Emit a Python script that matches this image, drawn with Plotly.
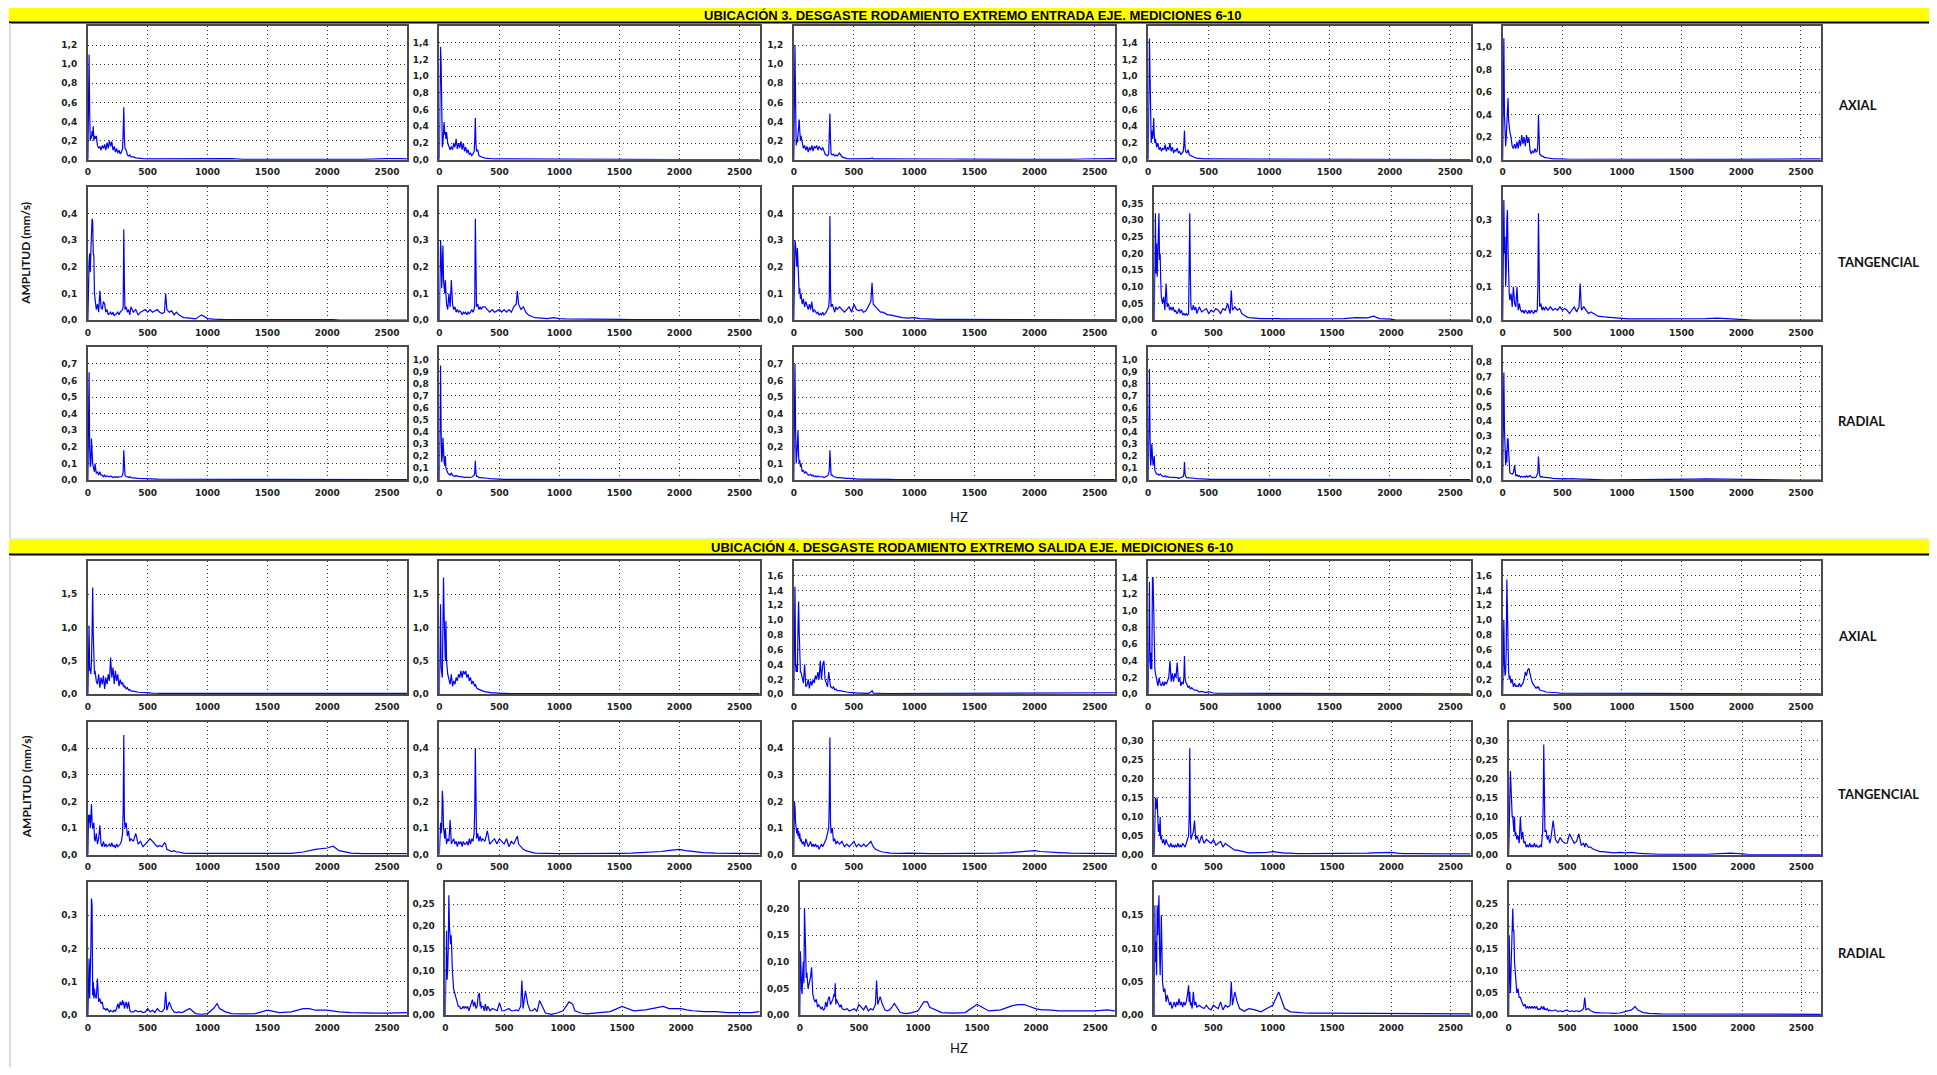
import plotly.graph_objects as go

# ---------------- data ----------------
FREQ = [0, 5, 10, 15, 20, 25, 30, 35, 40, 45, 50, 55,
        60, 70, 80, 90, 100, 110, 120, 130, 140, 150, 160, 170,
        180, 190, 200, 210, 220, 230, 240, 250, 260, 270, 280, 290,
        295, 300, 305, 310, 320, 330, 340, 350, 360,
        380, 400, 420, 440, 460, 480, 500, 520, 540, 560, 580, 600, 620, 640,
        650, 660, 680, 700, 720, 740, 760, 780, 800,
        850, 900, 950, 1000, 1050, 1080, 1100, 1150, 1200,
        1300, 1400, 1500, 1600, 1700, 1800, 1850, 1900, 2000, 2050,
        2100, 2200, 2300, 2400, 2500, 2600, 2666]

X_TICKS = [0, 500, 1000, 1500, 2000, 2500]
X_TICK_TEXT = ["0", "500", "1000", "1500", "2000", "2500"]

TITLE_U3 = "UBICACIÓN 3. DESGASTE RODAMIENTO EXTREMO ENTRADA EJE. MEDICIONES 6-10"
TITLE_U4 = "UBICACIÓN 4. DESGASTE RODAMIENTO EXTREMO SALIDA EJE. MEDICIONES 6-10"
ROW_NAMES = ["AXIAL", "TANGENCIAL", "RADIAL"]

# ---- Ubicación 3, axial ----
u3_ax_6 = [0, 0.6, 1.1, 0.5, 0.2, 0.25, 0.22, 0.3, 0.25, 0.35, 0.2, 0.25,
           0.22, 0.25, 0.15, 0.12, 0.14, 0.1, 0.15, 0.12, 0.16, 0.1, 0.18, 0.12,
           0.2, 0.14, 0.19, 0.1, 0.14, 0.08, 0.12, 0.07, 0.1, 0.06, 0.08, 0.12,
           0.3, 0.55, 0.23, 0.12, 0.1, 0.05, 0.04, 0.05, 0.03,
           0.03, 0.02, 0.015, 0.01, 0.012, 0.01, 0.01, 0.012, 0.01, 0.008, 0.01, 0.01, 0.008, 0.012,
           0.015, 0.01, 0.01, 0.008, 0.01, 0.008, 0.01, 0.008, 0.01,
           0.008, 0.01, 0.008, 0.012, 0.01, 0.012, 0.01, 0.008, 0.012,
           0.005, 0.004, 0.003, 0.003, 0.004, 0.003, 0.003, 0.004, 0.005, 0.004,
           0.003, 0.004, 0.005, 0.012, 0.012, 0.012, 0.01]
u3_ax_7 = [0, 0.8, 1.35, 1.15, 0.3, 0.15, 0.2, 0.35, 0.45, 0.3, 0.33, 0.25,
           0.33, 0.2, 0.15, 0.12, 0.16, 0.12, 0.2, 0.15, 0.25, 0.13, 0.2, 0.14,
           0.22, 0.12, 0.2, 0.1, 0.15, 0.08, 0.12, 0.06, 0.08, 0.05, 0.07, 0.1,
           0.22, 0.5, 0.2, 0.1, 0.12, 0.05, 0.04, 0.03, 0.03,
           0.02, 0.02, 0.015, 0.012, 0.01, 0.012, 0.01, 0.01, 0.012, 0.01, 0.01, 0.008, 0.01, 0.01,
           0.012, 0.01, 0.01, 0.01, 0.008, 0.01, 0.01, 0.008, 0.01,
           0.01, 0.008, 0.01, 0.012, 0.01, 0.01, 0.01, 0.008, 0.01,
           0.01, 0.008, 0.012, 0.005, 0.004, 0.003, 0.003, 0.004, 0.003, 0.002,
           0.002, 0.002, 0.002, 0.002, 0.002, 0.002, 0.002]
u3_ax_8 = [0, 0.7, 1.2, 0.6, 0.15, 0.22, 0.18, 0.25, 0.3, 0.42, 0.3, 0.2,
           0.25, 0.18, 0.12, 0.15, 0.1, 0.14, 0.08, 0.13, 0.1, 0.15, 0.09, 0.14,
           0.12, 0.15, 0.1, 0.14, 0.12, 0.1, 0.13, 0.08, 0.06, 0.05, 0.04, 0.06,
           0.2, 0.48, 0.2, 0.06, 0.05, 0.06, 0.04, 0.05, 0.04,
           0.07, 0.03, 0.02, 0.012, 0.01, 0.012, 0.01, 0.01, 0.01, 0.01, 0.01, 0.008, 0.01, 0.012,
           0.02, 0.01, 0.01, 0.01, 0.01, 0.008, 0.01, 0.01, 0.008,
           0.01, 0.008, 0.01, 0.01, 0.012, 0.015, 0.012, 0.01, 0.008,
           0.008, 0.006, 0.005, 0.004, 0.003, 0.003, 0.003, 0.003, 0.002, 0.002,
           0.002, 0.003, 0.004, 0.008, 0.01, 0.012, 0.012]
u3_ax_9 = [0, 0.9, 1.45, 1.0, 0.3, 0.2, 0.35, 0.25, 0.3, 0.5, 0.3, 0.2,
           0.25, 0.15, 0.2, 0.12, 0.15, 0.1, 0.14, 0.12, 0.18, 0.1, 0.15, 0.12,
           0.2, 0.1, 0.15, 0.08, 0.12, 0.1, 0.14, 0.08, 0.1, 0.06, 0.08, 0.1,
           0.18, 0.35, 0.15, 0.1, 0.08, 0.12, 0.06, 0.05, 0.04,
           0.03, 0.02, 0.015, 0.012, 0.01, 0.01, 0.01, 0.008, 0.01, 0.008, 0.01, 0.008, 0.01, 0.008,
           0.01, 0.008, 0.008, 0.01, 0.008, 0.008, 0.006, 0.008, 0.006,
           0.006, 0.005, 0.006, 0.005, 0.006, 0.005, 0.005, 0.004, 0.005,
           0.004, 0.003, 0.003, 0.003, 0.003, 0.003, 0.003, 0.003, 0.003, 0.003,
           0.003, 0.003, 0.003, 0.003, 0.003, 0.003, 0.003]
u3_ax_10 = [0, 1.08, 1.08, 0.4, 0.18, 0.12, 0.2, 0.3, 0.35, 0.55, 0.35, 0.25,
            0.25, 0.2, 0.12, 0.1, 0.14, 0.1, 0.16, 0.1, 0.18, 0.12, 0.22, 0.14,
            0.2, 0.12, 0.22, 0.15, 0.2, 0.08, 0.05, 0.08, 0.06, 0.1, 0.07, 0.08,
            0.15, 0.4, 0.15, 0.05, 0.04, 0.03, 0.03, 0.02, 0.02,
            0.015, 0.01, 0.008, 0.008, 0.006, 0.006, 0.006, 0.006, 0.005, 0.005, 0.005, 0.005, 0.005, 0.005,
            0.005, 0.005, 0.005, 0.005, 0.005, 0.005, 0.005, 0.005, 0.005,
            0.005, 0.005, 0.005, 0.006, 0.008, 0.01, 0.006, 0.005, 0.005,
            0.004, 0.004, 0.004, 0.005, 0.004, 0.004, 0.004, 0.003, 0.003, 0.003,
            0.003, 0.003, 0.003, 0.004, 0.008, 0.008, 0.008]

# ---- Ubicación 3, tangencial ----
u3_tg_6 = [0, 0.2, 0.22, 0.25, 0.18, 0.26, 0.3, 0.38, 0.37, 0.25, 0.24, 0.1,
           0.08, 0.04, 0.06, 0.03, 0.11, 0.05, 0.04, 0.07, 0.06, 0.03, 0.04, 0.02,
           0.025, 0.03, 0.02, 0.03, 0.018, 0.02, 0.025, 0.03, 0.02, 0.03, 0.035, 0.04,
           0.05, 0.34, 0.14, 0.04, 0.05, 0.03, 0.04, 0.02, 0.05,
           0.03, 0.04, 0.02, 0.03, 0.035, 0.04, 0.03, 0.04, 0.03, 0.035, 0.04, 0.03, 0.025, 0.03,
           0.1, 0.04, 0.03, 0.035, 0.02, 0.03, 0.02, 0.015, 0.01,
           0.008, 0.005, 0.02, 0.006, 0.004, 0.003, 0.003, 0.002, 0.002,
           0.002, 0.002, 0.003, 0.002, 0.002, 0.002, 0.002, 0.002, 0.003, 0.002,
           0, 0, 0, 0, 0, 0, 0]
u3_tg_7 = [0, 0.18, 0.3, 0.25, 0.12, 0.2, 0.28, 0.15, 0.12, 0.1, 0.15, 0.08,
           0.06, 0.04, 0.1, 0.05, 0.15, 0.06, 0.04, 0.05, 0.03, 0.04, 0.03, 0.035,
           0.03, 0.02, 0.03, 0.025, 0.03, 0.02, 0.03, 0.025, 0.03, 0.04, 0.03, 0.04,
           0.06, 0.38, 0.1, 0.05, 0.06, 0.04, 0.05, 0.04, 0.05,
           0.05, 0.04, 0.03, 0.04, 0.03, 0.035, 0.04, 0.03, 0.04, 0.03, 0.04, 0.03, 0.05, 0.06,
           0.11, 0.06, 0.04, 0.05, 0.03, 0.02, 0.015, 0.012, 0.01,
           0.008, 0.006, 0.01, 0.006, 0.005, 0.005, 0.004, 0.004, 0.003,
           0.003, 0.003, 0.003, 0.002, 0.002, 0.003, 0.002, 0.002, 0.004, 0.003,
           0.002, 0.002, 0.002, 0.002, 0.002, 0.002, 0.002]
u3_tg_8 = [0, 0.2, 0.3, 0.28, 0.25, 0.2, 0.27, 0.2, 0.15, 0.1, 0.12, 0.08,
           0.1, 0.06, 0.08, 0.05, 0.07, 0.05, 0.04, 0.06, 0.04, 0.07, 0.03, 0.04,
           0.03, 0.025, 0.03, 0.02, 0.025, 0.02, 0.03, 0.02, 0.025, 0.03, 0.04, 0.05,
           0.08, 0.39, 0.12, 0.05, 0.06, 0.04, 0.03, 0.05, 0.04,
           0.05, 0.04, 0.03, 0.04, 0.05, 0.03, 0.06, 0.04, 0.035, 0.04, 0.03, 0.035, 0.05, 0.07,
           0.14, 0.06, 0.05, 0.04, 0.03, 0.03, 0.025, 0.02, 0.02,
           0.015, 0.01, 0.008, 0.01, 0.006, 0.005, 0.004, 0.004, 0.003,
           0.003, 0.003, 0.003, 0.002, 0.002, 0.002, 0.002, 0.002, 0.002, 0.002,
           0.002, 0.001, 0.001, 0.001, 0.001, 0.001, 0.001]
u3_tg_9 = [0, 0.2, 0.32, 0.14, 0.23, 0.13, 0.2, 0.29, 0.32, 0.18, 0.2, 0.12,
           0.07, 0.05, 0.07, 0.03, 0.11, 0.04, 0.05, 0.03, 0.04, 0.03, 0.04, 0.025,
           0.03, 0.02, 0.025, 0.035, 0.02, 0.03, 0.015, 0.02, 0.015, 0.02, 0.015, 0.02,
           0.12, 0.32, 0.13, 0.04, 0.03, 0.045, 0.03, 0.04, 0.02,
           0.04, 0.025, 0.03, 0.035, 0.02, 0.03, 0.025, 0.035, 0.03, 0.02, 0.035, 0.03, 0.05, 0.02,
           0.09, 0.03, 0.04, 0.03, 0.035, 0.02, 0.015, 0.01, 0.008,
           0.006, 0.005, 0.005, 0.006, 0.005, 0.004, 0.004, 0.004, 0.003,
           0.003, 0.004, 0.004, 0.005, 0.008, 0.007, 0.012, 0.005, 0.003, 0,
           0, 0, 0, 0, 0, 0, 0]
u3_tg_10 = [0, 0.36, 0.36, 0.2, 0.25, 0.1, 0.15, 0.3, 0.33, 0.21, 0.1, 0.08,
            0.06, 0.08, 0.04, 0.1, 0.05, 0.04, 0.1, 0.03, 0.05, 0.03, 0.025, 0.03,
            0.02, 0.03, 0.025, 0.02, 0.03, 0.02, 0.03, 0.025, 0.02, 0.03, 0.025, 0.03,
            0.1, 0.32, 0.13, 0.04, 0.05, 0.03, 0.04, 0.03, 0.04,
            0.03, 0.04, 0.03, 0.035, 0.03, 0.04, 0.03, 0.035, 0.03, 0.02, 0.03, 0.04, 0.025, 0.04,
            0.11, 0.03, 0.04, 0.03, 0.02, 0.025, 0.02, 0.015, 0.012,
            0.01, 0.008, 0.006, 0.005, 0.004, 0.004, 0.004, 0.003, 0.003,
            0.003, 0.003, 0.003, 0.004, 0.005, 0.006, 0.005, 0.004, 0.003, 0,
            0, 0, 0, 0, 0, 0, 0]

# ---- Ubicación 3, radial ----
u3_rd_6 = [0, 0.4, 0.65, 0.2, 0.08, 0.1, 0.25, 0.12, 0.1, 0.08, 0.06, 0.05,
           0.1, 0.04, 0.05, 0.03, 0.05, 0.03, 0.03, 0.02, 0.03, 0.02, 0.025, 0.02,
           0.02, 0.025, 0.02, 0.015, 0.02, 0.015, 0.02, 0.015, 0.02, 0.02, 0.02, 0.03,
           0.05, 0.18, 0.06, 0.03, 0.02, 0.02, 0.015, 0.02, 0.015,
           0.015, 0.012, 0.01, 0.01, 0.008, 0.01, 0.008, 0.008, 0.006, 0.006, 0.006, 0.005, 0.005, 0.006,
           0.006, 0.005, 0.005, 0.004, 0.004, 0.004, 0.004, 0.004, 0.004,
           0.004, 0.003, 0.003, 0.003, 0.003, 0.003, 0.003, 0.003, 0.003,
           0.003, 0.003, 0.003, 0.003, 0.003, 0.004, 0.004, 0.003, 0.003, 0.003,
           0.003, 0.003, 0.003, 0.003, 0.003, 0.003, 0.003]
u3_rd_7 = [0, 0.6, 0.95, 0.4, 0.15, 0.2, 0.35, 0.2, 0.15, 0.12, 0.2, 0.1,
           0.08, 0.06, 0.05, 0.04, 0.06, 0.04, 0.035, 0.03, 0.04, 0.03, 0.03, 0.03,
           0.025, 0.03, 0.025, 0.02, 0.025, 0.02, 0.025, 0.02, 0.02, 0.025, 0.03, 0.04,
           0.06, 0.16, 0.06, 0.03, 0.03, 0.02, 0.02, 0.02, 0.02,
           0.02, 0.015, 0.012, 0.01, 0.01, 0.008, 0.008, 0.008, 0.006, 0.006, 0.006, 0.005, 0.005, 0.005,
           0.005, 0.005, 0.004, 0.004, 0.004, 0.004, 0.004, 0.004, 0.004,
           0.003, 0.003, 0.003, 0.003, 0.003, 0.003, 0.003, 0.003, 0.003,
           0.003, 0.003, 0.003, 0.003, 0.003, 0.003, 0.003, 0.003, 0.003, 0.003,
           0.003, 0.003, 0.003, 0.003, 0.003, 0.003, 0.003]
u3_rd_8 = [0, 0.45, 0.7, 0.3, 0.1, 0.15, 0.2, 0.3, 0.15, 0.1, 0.12, 0.08,
           0.1, 0.05, 0.06, 0.04, 0.05, 0.04, 0.03, 0.03, 0.035, 0.025, 0.03, 0.02,
           0.025, 0.02, 0.025, 0.02, 0.02, 0.02, 0.02, 0.015, 0.02, 0.02, 0.025, 0.04,
           0.06, 0.18, 0.07, 0.03, 0.03, 0.02, 0.02, 0.015, 0.015,
           0.015, 0.012, 0.01, 0.01, 0.01, 0.008, 0.008, 0.008, 0.006, 0.006, 0.006, 0.005, 0.005, 0.006,
           0.008, 0.005, 0.005, 0.004, 0.004, 0.004, 0.004, 0.004, 0.004,
           0.003, 0.003, 0.003, 0.003, 0.003, 0.003, 0.003, 0.003, 0.003,
           0.003, 0.003, 0.003, 0.003, 0.003, 0.003, 0.003, 0.003, 0.003, 0.003,
           0.003, 0.003, 0.003, 0.003, 0.003, 0.003, 0.003]
u3_rd_9 = [0, 0.55, 0.92, 0.35, 0.12, 0.18, 0.3, 0.2, 0.12, 0.15, 0.2, 0.08,
           0.07, 0.05, 0.05, 0.04, 0.05, 0.035, 0.03, 0.03, 0.035, 0.025, 0.03, 0.025,
           0.025, 0.02, 0.025, 0.02, 0.02, 0.02, 0.02, 0.015, 0.02, 0.02, 0.025, 0.03,
           0.05, 0.15, 0.05, 0.03, 0.02, 0.02, 0.02, 0.015, 0.015,
           0.015, 0.012, 0.01, 0.01, 0.008, 0.008, 0.008, 0.006, 0.006, 0.006, 0.005, 0.005, 0.005, 0.005,
           0.005, 0.005, 0.004, 0.004, 0.004, 0.004, 0.004, 0.004, 0.004,
           0.003, 0.003, 0.003, 0.003, 0.003, 0.003, 0.003, 0.003, 0.003,
           0.003, 0.003, 0.003, 0.003, 0.003, 0.003, 0.003, 0.003, 0.003, 0.003,
           0.003, 0.003, 0.003, 0.003, 0.003, 0.003, 0.003]
u3_rd_10 = [0, 0.73, 0.73, 0.35, 0.18, 0.1, 0.2, 0.12, 0.28, 0.28, 0.2, 0.07,
            0.05, 0.045, 0.04, 0.05, 0.1, 0.03, 0.035, 0.025, 0.03, 0.02, 0.025, 0.02,
            0.025, 0.02, 0.03, 0.02, 0.025, 0.03, 0.02, 0.015, 0.02, 0.015, 0.02, 0.035,
            0.05, 0.16, 0.07, 0.03, 0.02, 0.025, 0.02, 0.02, 0.015,
            0.02, 0.015, 0.012, 0.01, 0.01, 0.01, 0.008, 0.01, 0.008, 0.008, 0.01, 0.008, 0.006, 0.006,
            0.006, 0.006, 0.006, 0.005, 0.005, 0.005, 0.005, 0.004, 0.003,
            0.002, 0.001, 0.001, 0.001, 0.001, 0.001, 0.001, 0.001, 0.001,
            0.001, 0.001, 0.005, 0.006, 0.008, 0.007, 0.006, 0.005, 0.001, 0,
            0, 0, 0, 0, 0, 0, 0]

# ---- Ubicación 4, axial ----
u4_ax_6 = [0, 1.03, 1.03, 0.35, 0.4, 0.3, 0.5, 0.95, 1.6, 0.9, 0.35, 0.3,
           0.35, 0.2, 0.15, 0.3, 0.1, 0.25, 0.15, 0.28, 0.08, 0.25, 0.15, 0.3,
           0.2, 0.55, 0.25, 0.4, 0.15, 0.35, 0.2, 0.3, 0.12, 0.22, 0.15, 0.18,
           0.12, 0.15, 0.1, 0.12, 0.08, 0.1, 0.06, 0.07, 0.05,
           0.05, 0.04, 0.03, 0.03, 0.025, 0.02, 0.025, 0.02, 0.015, 0.02, 0.015, 0.012, 0.012, 0.01,
           0.01, 0.01, 0.01, 0.01, 0.008, 0.008, 0.008, 0.008, 0.008,
           0.008, 0.008, 0.008, 0.008, 0.008, 0.008, 0.008, 0.008, 0.008,
           0.008, 0.008, 0.006, 0.006, 0.006, 0.008, 0.008, 0.008, 0.01, 0.01,
           0.01, 0.01, 0.01, 0.012, 0.015, 0.015, 0.012]
u4_ax_7 = [0, 1.35, 1.35, 0.4, 0.35, 0.25, 1.0, 1.75, 1.2, 0.6, 0.5, 1.1,
           0.5, 0.3, 0.2, 0.15, 0.3, 0.12, 0.2, 0.15, 0.25, 0.2, 0.3, 0.25,
           0.35, 0.25, 0.35, 0.3, 0.35, 0.25, 0.3, 0.2, 0.25, 0.15, 0.2, 0.15,
           0.12, 0.15, 0.1, 0.1, 0.08, 0.07, 0.06, 0.05, 0.05,
           0.04, 0.03, 0.025, 0.02, 0.02, 0.015, 0.015, 0.012, 0.012, 0.01, 0.01, 0.01, 0.01, 0.01,
           0.01, 0.01, 0.008, 0.008, 0.008, 0.008, 0.008, 0.008, 0.008,
           0.008, 0.008, 0.008, 0.008, 0.008, 0.008, 0.008, 0.008, 0.008,
           0.008, 0.008, 0.008, 0.006, 0.006, 0.008, 0.008, 0.01, 0.012, 0.01,
           0.01, 0.01, 0.008, 0.01, 0.01, 0.012, 0.01]
u4_ax_8 = [0, 1.45, 1.45, 0.4, 0.3, 0.4, 0.3, 0.9, 1.25, 0.85, 0.5, 0.3,
           0.3, 0.2, 0.15, 0.4, 0.1, 0.12, 0.2, 0.08, 0.18, 0.12, 0.2, 0.15,
           0.25, 0.2, 0.3, 0.2, 0.45, 0.2, 0.4, 0.45, 0.2, 0.15, 0.1, 0.3,
           0.2, 0.15, 0.1, 0.1, 0.08, 0.1, 0.06, 0.07, 0.05,
           0.05, 0.04, 0.03, 0.03, 0.025, 0.02, 0.02, 0.02, 0.015, 0.015, 0.015, 0.012, 0.012, 0.03,
           0.05, 0.015, 0.012, 0.01, 0.01, 0.01, 0.01, 0.01, 0.01,
           0.01, 0.01, 0.01, 0.01, 0.01, 0.01, 0.01, 0.01, 0.01,
           0.01, 0.01, 0.01, 0.01, 0.01, 0.01, 0.01, 0.01, 0.01, 0.01,
           0.01, 0.01, 0.01, 0.012, 0.015, 0.018, 0.02]
u4_ax_9 = [0, 1.35, 1.35, 0.4, 0.3, 0.5, 0.3, 1.4, 1.4, 1.05, 0.55, 0.3,
           0.25, 0.15, 0.1, 0.2, 0.12, 0.1, 0.15, 0.1, 0.15, 0.12, 0.15, 0.2,
           0.4, 0.15, 0.25, 0.15, 0.25, 0.2, 0.38, 0.15, 0.2, 0.1, 0.15, 0.12,
           0.2, 0.46, 0.2, 0.15, 0.12, 0.08, 0.1, 0.06, 0.08,
           0.05, 0.05, 0.03, 0.035, 0.025, 0.02, 0.03, 0.02, 0.015, 0.012, 0.012, 0.01, 0.01, 0.008,
           0.008, 0.008, 0.008, 0.008, 0.008, 0.006, 0.006, 0.006, 0.006,
           0.006, 0.006, 0.006, 0.006, 0.006, 0.006, 0.006, 0.006, 0.006,
           0.005, 0.005, 0.005, 0.005, 0.005, 0.005, 0.005, 0.005, 0.005, 0.005,
           0.005, 0.005, 0.005, 0.005, 0.005, 0.005, 0.005]
u4_ax_10 = [0, 1.0, 1.0, 0.4, 0.25, 0.3, 0.6, 1.55, 0.9, 0.5, 0.3, 0.2,
            0.25, 0.15, 0.2, 0.1, 0.15, 0.1, 0.12, 0.1, 0.15, 0.1, 0.12, 0.15,
            0.2, 0.3, 0.25, 0.33, 0.35, 0.25, 0.2, 0.15, 0.12, 0.1, 0.08, 0.1,
            0.08, 0.1, 0.07, 0.06, 0.05, 0.05, 0.04, 0.04, 0.03,
            0.03, 0.03, 0.02, 0.02, 0.02, 0.015, 0.015, 0.012, 0.01, 0.01, 0.01, 0.01, 0.008, 0.008,
            0.008, 0.008, 0.008, 0.008, 0.008, 0.008, 0.008, 0.008, 0.008,
            0.006, 0.006, 0.006, 0.006, 0.006, 0.006, 0.006, 0.006, 0.006,
            0.005, 0.005, 0.005, 0.005, 0.005, 0.005, 0.005, 0.005, 0.005, 0.005,
            0.005, 0.005, 0.005, 0.005, 0.005, 0.005, 0.005]

# ---- Ubicación 4, tangencial ----
u4_tg_6 = [0, 0.15, 0.12, 0.15, 0.1, 0.14, 0.19, 0.12, 0.1, 0.11, 0.12, 0.06,
           0.05, 0.08, 0.04, 0.06, 0.11, 0.04, 0.03, 0.05, 0.03, 0.04, 0.03, 0.035,
           0.04, 0.03, 0.045, 0.03, 0.035, 0.025, 0.04, 0.03, 0.035, 0.04, 0.05, 0.08,
           0.17, 0.45, 0.14, 0.1, 0.12, 0.07, 0.09, 0.05, 0.06,
           0.05, 0.08, 0.04, 0.05, 0.03, 0.04, 0.05, 0.06, 0.05, 0.04, 0.03, 0.035, 0.03, 0.045,
           0.04, 0.02, 0.015, 0.012, 0.015, 0.01, 0.01, 0.008, 0.006,
           0.005, 0.005, 0.004, 0.004, 0.004, 0.003, 0.003, 0.003, 0.003,
           0.003, 0.003, 0.003, 0.004, 0.005, 0.01, 0.015, 0.02, 0.025, 0.032,
           0.015, 0.006, 0.004, 0.004, 0.004, 0.004, 0.004]
u4_tg_7 = [0, 0.1, 0.12, 0.08, 0.1, 0.24, 0.2, 0.1, 0.08, 0.06, 0.1, 0.05,
           0.04, 0.06, 0.05, 0.13, 0.04, 0.05, 0.06, 0.04, 0.05, 0.03, 0.05, 0.04,
           0.05, 0.03, 0.05, 0.04, 0.04, 0.05, 0.035, 0.06, 0.04, 0.06, 0.05, 0.08,
           0.17, 0.4, 0.1, 0.06, 0.08, 0.05, 0.07, 0.05, 0.06,
           0.05, 0.09, 0.04, 0.05, 0.06, 0.04, 0.06, 0.05, 0.04, 0.06, 0.03, 0.05, 0.04, 0.06,
           0.07, 0.04, 0.03, 0.02, 0.015, 0.012, 0.01, 0.008, 0.006,
           0.005, 0.005, 0.004, 0.004, 0.004, 0.004, 0.003, 0.003, 0.003,
           0.003, 0.004, 0.005, 0.006, 0.008, 0.01, 0.012, 0.015, 0.02, 0.015,
           0.012, 0.008, 0.006, 0.005, 0.004, 0.004, 0.004]
u4_tg_8 = [0, 0.2, 0.18, 0.12, 0.1, 0.08, 0.1, 0.07, 0.09, 0.06, 0.08, 0.05,
           0.06, 0.04, 0.05, 0.03, 0.06, 0.04, 0.03, 0.04, 0.05, 0.03, 0.04, 0.03,
           0.04, 0.03, 0.035, 0.02, 0.03, 0.04, 0.03, 0.04, 0.05, 0.06, 0.08, 0.1,
           0.2, 0.44, 0.12, 0.08, 0.1, 0.05, 0.06, 0.04, 0.05,
           0.04, 0.05, 0.03, 0.04, 0.03, 0.04, 0.05, 0.03, 0.04, 0.03, 0.04, 0.03, 0.04, 0.05,
           0.04, 0.03, 0.02, 0.015, 0.012, 0.01, 0.01, 0.008, 0.006,
           0.005, 0.005, 0.006, 0.005, 0.005, 0.004, 0.004, 0.004, 0.004,
           0.004, 0.004, 0.004, 0.005, 0.006, 0.008, 0.01, 0.012, 0.015, 0.012,
           0.01, 0.008, 0.006, 0.005, 0.005, 0.004, 0.004]
u4_tg_9 = [0, 0.1, 0.15, 0.12, 0.14, 0.15, 0.1, 0.06, 0.08, 0.05, 0.1, 0.04,
           0.05, 0.03, 0.04, 0.025, 0.04, 0.03, 0.025, 0.02, 0.03, 0.02, 0.025, 0.02,
           0.025, 0.02, 0.03, 0.02, 0.025, 0.02, 0.03, 0.025, 0.02, 0.03, 0.04, 0.05,
           0.1, 0.28, 0.09, 0.04, 0.05, 0.06, 0.09, 0.04, 0.05,
           0.03, 0.05, 0.03, 0.04, 0.035, 0.03, 0.04, 0.025, 0.03, 0.035, 0.02, 0.03, 0.025, 0.02,
           0.02, 0.015, 0.012, 0.012, 0.01, 0.008, 0.008, 0.006, 0.005,
           0.005, 0.005, 0.006, 0.008, 0.005, 0.004, 0.004, 0.004, 0.003,
           0.003, 0.003, 0.003, 0.003, 0.004, 0.004, 0.005, 0.005, 0.006, 0.004,
           0.003, 0.003, 0.002, 0.002, 0.002, 0.002, 0.002]
u4_tg_10 = [0, 0.05, 0.15, 0.22, 0.16, 0.15, 0.1, 0.1, 0.08, 0.06, 0.1, 0.05,
            0.06, 0.04, 0.05, 0.03, 0.1, 0.04, 0.06, 0.03, 0.035, 0.02, 0.025, 0.02,
            0.03, 0.02, 0.025, 0.02, 0.03, 0.02, 0.025, 0.02, 0.02, 0.025, 0.02, 0.06,
            0.13, 0.29, 0.1, 0.06, 0.065, 0.04, 0.05, 0.03, 0.04,
            0.09, 0.04, 0.03, 0.045, 0.035, 0.03, 0.03, 0.055, 0.04, 0.03, 0.035, 0.055, 0.025, 0.03,
            0.02, 0.03, 0.02, 0.02, 0.015, 0.012, 0.01, 0.008, 0.008,
            0.006, 0.005, 0.006, 0.005, 0.006, 0.004, 0.004, 0.003, 0.002,
            0.001, 0.001, 0.001, 0.001, 0.001, 0.003, 0.004, 0.004, 0.002, 0,
            0, 0, 0, 0, 0, 0, 0]

# ---- Ubicación 4, radial ----
u4_rd_6 = [0, 0.17, 0.17, 0.05, 0.1, 0.2, 0.35, 0.33, 0.06, 0.1, 0.05, 0.08,
           0.06, 0.05, 0.11, 0.04, 0.05, 0.035, 0.04, 0.02, 0.02, 0.015, 0.02, 0.015,
           0.01, 0.015, 0.012, 0.01, 0.015, 0.012, 0.02, 0.035, 0.02, 0.04, 0.03, 0.045,
           0.03, 0.04, 0.02, 0.03, 0.04, 0.02, 0.04, 0.015, 0.01,
           0.01, 0.015, 0.01, 0.012, 0.008, 0.01, 0.02, 0.01, 0.015, 0.008, 0.02, 0.012, 0.01, 0.02,
           0.07, 0.015, 0.04, 0.02, 0.01, 0.008, 0.01, 0.008, 0.01,
           0.02, 0.005, 0.003, 0.005, 0.02, 0.035, 0.02, 0.01, 0.005,
           0.004, 0.005, 0.015, 0.008, 0.01, 0.02, 0.02, 0.015, 0.015, 0.012,
           0.01, 0.008, 0.006, 0.006, 0.006, 0.006, 0.008]
u4_rd_7 = [0, 0.15, 0.19, 0.08, 0.1, 0.15, 0.27, 0.2, 0.18, 0.16, 0.18, 0.12,
           0.1, 0.06, 0.05, 0.04, 0.03, 0.02, 0.02, 0.015, 0.015, 0.02, 0.015, 0.02,
           0.015, 0.02, 0.01, 0.02, 0.025, 0.035, 0.02, 0.03, 0.015, 0.02, 0.045, 0.05,
           0.02, 0.03, 0.015, 0.02, 0.02, 0.01, 0.025, 0.01, 0.02,
           0.01, 0.015, 0.012, 0.01, 0.028, 0.01, 0.01, 0.012, 0.015, 0.01, 0.01, 0.012, 0.01, 0.02,
           0.078, 0.015, 0.055, 0.025, 0.01, 0.01, 0.015, 0.008, 0.033,
           0.005, 0.002, 0.005, 0.01, 0.03, 0.025, 0.01, 0.005, 0.003,
           0.005, 0.008, 0.02, 0.01, 0.012, 0.018, 0.02, 0.015, 0.015, 0.012,
           0.01, 0.008, 0.008, 0.006, 0.006, 0.006, 0.008]
u4_rd_8 = [0, 0.12, 0.09, 0.05, 0.04, 0.08, 0.1, 0.06, 0.2, 0.16, 0.11, 0.07,
           0.08, 0.05, 0.06, 0.07, 0.09, 0.04, 0.03, 0.025, 0.03, 0.015, 0.02, 0.015,
           0.012, 0.015, 0.01, 0.012, 0.025, 0.015, 0.03, 0.035, 0.02, 0.025, 0.03, 0.04,
           0.035, 0.06, 0.02, 0.03, 0.025, 0.02, 0.015, 0.02, 0.012,
           0.01, 0.012, 0.008, 0.01, 0.012, 0.008, 0.02, 0.015, 0.01, 0.018, 0.008, 0.012, 0.01, 0.02,
           0.065, 0.02, 0.035, 0.02, 0.01, 0.008, 0.01, 0.015, 0.022,
           0.005, 0.003, 0.005, 0.008, 0.025, 0.025, 0.015, 0.01, 0.005,
           0.004, 0.005, 0.02, 0.008, 0.01, 0.018, 0.02, 0.02, 0.012, 0.01,
           0.01, 0.008, 0.008, 0.008, 0.008, 0.01, 0.008]
u4_rd_9 = [0, 0.165, 0.08, 0.11, 0.06, 0.165, 0.12, 0.18, 0.18, 0.1, 0.06, 0.1,
           0.15, 0.05, 0.035, 0.04, 0.02, 0.03, 0.02, 0.015, 0.02, 0.01, 0.015, 0.02,
           0.012, 0.02, 0.015, 0.025, 0.015, 0.02, 0.012, 0.02, 0.015, 0.02, 0.03, 0.045,
           0.02, 0.035, 0.015, 0.02, 0.01, 0.035, 0.015, 0.02, 0.012,
           0.015, 0.012, 0.01, 0.015, 0.01, 0.008, 0.015, 0.012, 0.01, 0.02, 0.008, 0.015, 0.012, 0.015,
           0.05, 0.015, 0.035, 0.02, 0.01, 0.008, 0.006, 0.008, 0.01,
           0.008, 0.005, 0.01, 0.015, 0.035, 0.02, 0.01, 0.005, 0.004,
           0.003, 0.003, 0.003, 0.003, 0.003, 0.003, 0.003, 0.003, 0.003, 0.003,
           0.002, 0.002, 0.002, 0.002, 0.002, 0.002, 0.002]
u4_rd_10 = [0, 0.18, 0.1, 0.05, 0.1, 0.15, 0.24, 0.24, 0.19, 0.19, 0.12, 0.1,
            0.08, 0.05, 0.06, 0.04, 0.04, 0.03, 0.025, 0.02, 0.025, 0.015, 0.02, 0.015,
            0.02, 0.015, 0.02, 0.015, 0.02, 0.015, 0.02, 0.012, 0.015, 0.012, 0.02, 0.015,
            0.015, 0.02, 0.012, 0.015, 0.012, 0.015, 0.01, 0.012, 0.01,
            0.01, 0.012, 0.008, 0.01, 0.008, 0.01, 0.012, 0.008, 0.01, 0.008, 0.01, 0.008, 0.01, 0.015,
            0.04, 0.012, 0.015, 0.01, 0.008, 0.006, 0.006, 0.005, 0.005,
            0.005, 0.004, 0.005, 0.008, 0.012, 0.02, 0.012, 0.006, 0.004,
            0.003, 0.003, 0.002, 0.002, 0.002, 0.002, 0.002, 0.002, 0.002, 0.002,
            0.002, 0.002, 0.002, 0.002, 0.002, 0.002, 0.002]

# y-axis scales per panel: (axis max, tick step, last labelled tick, decimals)
Y_U3_AXIAL = [(1.4, 0.2, 1.2, 1), (1.6, 0.2, 1.4, 1), (1.4, 0.2, 1.2, 1), (1.6, 0.2, 1.4, 1), (1.19, 0.2, 1.0, 1)]
Y_U3_TANG = [(0.5, 0.1, 0.4, 1), (0.5, 0.1, 0.4, 1), (0.5, 0.1, 0.4, 1), (0.4, 0.05, 0.35, 2), (0.4, 0.1, 0.3, 1)]
Y_U3_RAD = [(0.8, 0.1, 0.7, 1), (1.1, 0.1, 1.0, 1), (0.8, 0.1, 0.7, 1), (1.1, 0.1, 1.0, 1), (0.9, 0.1, 0.8, 1)]
Y_U4_AXIAL = [(2.0, 0.5, 1.5, 1), (2.0, 0.5, 1.5, 1), (1.8, 0.2, 1.6, 1), (1.6, 0.2, 1.4, 1), (1.8, 0.2, 1.6, 1)]
Y_U4_TANG = [(0.5, 0.1, 0.4, 1), (0.5, 0.1, 0.4, 1), (0.5, 0.1, 0.4, 1), (0.35, 0.05, 0.30, 2), (0.35, 0.05, 0.30, 2)]
Y_U4_RAD = [(0.4, 0.1, 0.3, 1), (0.3, 0.05, 0.25, 2), (0.25, 0.05, 0.20, 2), (0.2, 0.05, 0.15, 2), (0.3, 0.05, 0.25, 2)]

ROWS = [
    ("u3_ax", [u3_ax_6, u3_ax_7, u3_ax_8, u3_ax_9, u3_ax_10], Y_U3_AXIAL),
    ("u3_tg", [u3_tg_6, u3_tg_7, u3_tg_8, u3_tg_9, u3_tg_10], Y_U3_TANG),
    ("u3_rd", [u3_rd_6, u3_rd_7, u3_rd_8, u3_rd_9, u3_rd_10], Y_U3_RAD),
    ("u4_ax", [u4_ax_6, u4_ax_7, u4_ax_8, u4_ax_9, u4_ax_10], Y_U4_AXIAL),
    ("u4_tg", [u4_tg_6, u4_tg_7, u4_tg_8, u4_tg_9, u4_tg_10], Y_U4_TANG),
    ("u4_rd", [u4_rd_6, u4_rd_7, u4_rd_8, u4_rd_9, u4_rd_10], Y_U4_RAD),
]

for name, series, _ in ROWS:
    for i, s in enumerate(series):
        if len(s) != len(FREQ):
            raise ValueError(f"{name}_{i+6}: {len(s)} values, expected {len(FREQ)}")

# ---------------- layout geometry (page pixels) ----------------
W, H, OFF = 1921, 1059, 8


def fx(X):
    return (X - OFF) / W


def fy(Y):
    return 1 - (Y - OFF) / H


ROW_TB = [(26, 160.5), (187.5, 321.7), (349, 482.3), (563.5, 697.5), (725, 858.7), (886, 1020)]
COL_L = [85, 437, 792, 1147, 1502]
COL_R = [405, 758, 1114, 1470, 1821]
LABEL_Y = [105, 263, 423, 639, 798, 957]

TICKFONT = dict(family="DejaVu Sans", size=9, color="#222222", weight="bold")
GRID = dict(showgrid=True, gridcolor="#333333", gridwidth=1, griddash="1px,3px",
            showline=True, mirror=True, linecolor="#4a4a4a", linewidth=1.6,
            zeroline=False, ticks="", fixedrange=True, tickfont=TICKFONT)

fig = go.Figure()
layout = {}
for r, (name, series, yconf) in enumerate(ROWS):
    top, bot = ROW_TB[r]
    for c in range(5):
        k = r * 5 + c + 1
        xid = "x" if k == 1 else f"x{k}"
        yid = "y" if k == 1 else f"y{k}"
        ymax, step, tmax, dec = yconf[c]
        n = int(round(tmax / step))
        tv = [round(i * step, 4) for i in range(n + 1)]
        tt = [f"{v:.{dec}f}".replace(".", ",") for v in tv]
        left = COL_L[c] + (6 if dec == 2 else 0)
        layout["xaxis" if k == 1 else f"xaxis{k}"] = dict(
            domain=[fx(left), fx(COL_R[c])], range=[0, 2670], anchor=yid,
            tickvals=X_TICKS, ticktext=X_TICK_TEXT, ticklabelstandoff=3, **GRID)
        layout["yaxis" if k == 1 else f"yaxis{k}"] = dict(
            domain=[fy(bot), fy(top)], range=[0, ymax], anchor=xid,
            tickvals=tv, ticktext=tt, ticklabelstandoff=7, **GRID)
        fig.add_trace(go.Scatter(x=FREQ, y=series[c], xaxis=xid, yaxis=yid, mode="lines",
                                 line=dict(color="#0000FF", width=1.2), showlegend=False,
                                 hoverinfo="skip"))

shapes = [
    # banners
    dict(type="rect", xref="paper", yref="paper", x0=fx(6), x1=fx(1934), y0=fy(21.5), y1=fy(6),
         fillcolor="#FFFF00", line=dict(width=0), layer="below"),
    dict(type="line", xref="paper", yref="paper", x0=fx(6), x1=fx(1934), y0=fy(22.5), y1=fy(22.5),
         line=dict(color="#000000", width=2)),
    dict(type="rect", xref="paper", yref="paper", x0=fx(6), x1=fx(1934), y0=fy(556), y1=fy(542.5),
         fillcolor="#FFFF00", line=dict(width=0), layer="below"),
    dict(type="line", xref="paper", yref="paper", x0=fx(6), x1=fx(1934), y0=fy(557), y1=fy(557),
         line=dict(color="#000000", width=2)),
    dict(type="line", xref="paper", yref="paper", x0=fx(7), x1=fx(1934), y0=fy(541.5), y1=fy(541.5),
         line=dict(color="#cfcfcf", width=1)),
    # section borders
    dict(type="line", xref="paper", yref="paper", x0=fx(7), x1=fx(7), y0=fy(541), y1=fy(23),
         line=dict(color="#cfcfcf", width=1.5)),
    dict(type="line", xref="paper", yref="paper", x0=fx(7), x1=fx(7), y0=fy(1075), y1=fy(558),
         line=dict(color="#cfcfcf", width=1.5)),
    dict(type="line", xref="paper", yref="paper", x0=fx(1933.5), x1=fx(1933.5), y0=fy(1075), y1=fy(23),
         line=dict(color="#1a1a1a", width=1.5)),
]

annotations = [
    dict(text=f"<b>{TITLE_U3}</b>", x=fx(971), y=fy(16), xref="paper", yref="paper",
         showarrow=False, xanchor="center", yanchor="middle",
         font=dict(family="Liberation Sans, Arial", size=13, color="#000000")),
    dict(text=f"<b>{TITLE_U4}</b>", x=fx(971), y=fy(550), xref="paper", yref="paper",
         showarrow=False, xanchor="center", yanchor="middle",
         font=dict(family="Liberation Sans, Arial", size=13, color="#000000")),
]
for i, ly in enumerate(LABEL_Y):
    annotations.append(dict(text=f"<b>{ROW_NAMES[i % 3]}</b>", x=fx(1836), y=fy(ly),
                            xref="paper", yref="paper", showarrow=False, xanchor="left",
                            yanchor="middle", font=dict(family="Lato", size=13, color="#111111")))
for ay in (254, 790):
    annotations.append(dict(text="<b>AMPLITUD (mm/s)</b>", x=fx(23), y=fy(ay), xref="paper",
                            yref="paper", showarrow=False, textangle=-90, xanchor="center",
                            yanchor="middle", font=dict(family="Lato", size=12, color="#111111")))
for hy in (519, 1053):
    annotations.append(dict(text="HZ", x=fx(957), y=fy(hy), xref="paper", yref="paper",
                            showarrow=False, xanchor="center", yanchor="middle",
                            font=dict(family="Lato", size=13, color="#111111")))

fig.update_layout(width=W, height=H, margin=dict(l=0, r=0, t=0, b=0, pad=0),
                  paper_bgcolor="#FFFFFF", plot_bgcolor="#FFFFFF",
                  shapes=shapes, annotations=annotations, **layout)

fig.write_html("out.html")
